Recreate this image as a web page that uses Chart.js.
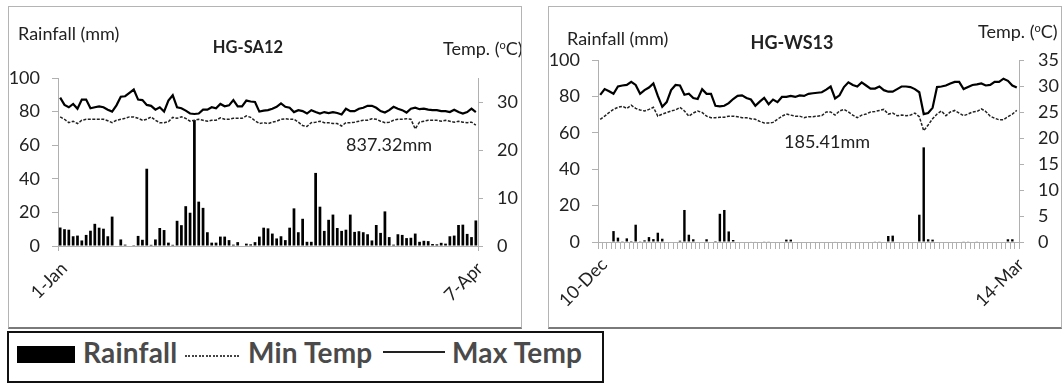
<!DOCTYPE html>
<html>
<head>
<meta charset="utf-8">
<title>Rainfall and temperature HG-SA12 / HG-WS13</title>
<script src="https://cdn.jsdelivr.net/npm/chart.js"></script>
<style>
  body { margin: 0; background: #fff; font-family: Lato, sans-serif; color: #222; }
  #page { position: relative; width: 1063px; height: 385px; overflow: hidden; }
  .panel { position: absolute; top: 6px; width: 514px; height: 323px; box-sizing: border-box;
           border: 1px solid #b4b4b4; border-bottom: 2px solid #7a7a7a; overflow: hidden; }
  .panel canvas { position: absolute; left: 0; top: 0; }
  .txt { position: absolute; white-space: nowrap; font-size: 18px; line-height: 1; color: #222; }
  .ttl { font-weight: bold; transform: translateX(-50%); }
  sup { font-size: 11px; vertical-align: 6px; line-height: 0; }
  #legend { position: absolute; left: 7px; top: 331px; width: 597px; height: 52px; box-sizing: border-box;
            border: 2px solid #111; }
  #legend .lt { position: absolute; top: 5px; font-size: 28px; font-weight: bold; line-height: 1;
                color: #4a4a4a; white-space: nowrap; letter-spacing: 0.2px; }
  #legend .sw { position: absolute; }
  #legend .dots { height: 1.5px; background: repeating-linear-gradient(to right, #444 0 2px, transparent 2px 3.5px); }
</style>
</head>
<body>
<div id="page">
  <div class="panel" style="left:8px">
    <canvas id="chartSA" width="512" height="320"></canvas>
    <div class="txt" style="left:9px; top:17px">Rainfall (mm)</div>
    <div class="txt ttl" style="left:239px; top:32px; font-size:16.5px">HG-SA12</div>
    <div class="txt" style="left:434px; top:32px">Temp. (<sup>o</sup>C)</div>
    <div class="txt" style="left:337px; top:128px">837.32mm</div>
  </div>
  <div class="panel" style="left:548px">
    <canvas id="chartWS" width="512" height="320"></canvas>
    <div class="txt" style="left:18px; top:22px">Rainfall (mm)</div>
    <div class="txt ttl" style="left:243px; top:26px; font-size:18px">HG-WS13</div>
    <div class="txt" style="left:429px; top:15px">Temp. (<sup>o</sup>C)</div>
    <div class="txt" style="left:235px; top:125px">185.41mm</div>
  </div>
  <div id="legend">
    <div class="sw" style="left:8px; top:13px; width:58px; height:17px; background:#000"></div>
    <div class="lt" style="left:74px">Rainfall</div>
    <div class="sw dots" style="left:176px; top:22px; width:56px"></div>
    <div class="lt" style="left:239px">Min Temp</div>
    <div class="sw" style="left:374px; top:18px; width:62px; border-top:2px solid #222"></div>
    <div class="lt" style="left:443px">Max Temp</div>
  </div>
</div>

<script>
// HG-SA12 : daily values, 1-Jan .. 7-Apr
const saStart = '2013-01-01';
const saRain = [11, 10, 9.7, 5.8, 6.2, 3.3, 6.6, 9.1, 13.2, 10.9,
  10.3, 5.8, 17.5, 0, 3.9, 0.8, 0, 0.5, 6, 3.7,
  46, 0.7, 3.9, 10.7, 9.5, 2, 0.7, 15, 12.4, 23.7,
  19.8, 75, 26.4, 22.7, 8.2, 2, 2, 5.6, 5.6, 3.5,
  0.8, 2.3, 0, 1.4, 1, 2.3, 5.6, 10.9, 10.5, 7.4,
  4.5, 5.8, 3.5, 10.9, 22.4, 8.2, 16.2, 2.5, 2.5, 43.5,
  23.4, 9, 15.6, 18.7, 10.7, 9, 9.7, 18.7, 8.4, 8.8,
  8.2, 7, 3.3, 12.5, 7.8, 20.6, 5.3, 0.8, 7, 6.6,
  4.7, 4.9, 7.4, 2.5, 3.1, 2.9, 1.2, 1, 1.9, 1.4,
  5.8, 6.2, 12.5, 12.7, 7.2, 5.3, 15.2];
const saMax = [30.9, 29.4, 28.9, 29.6, 28.6, 30.5, 30.5, 28.7, 28.9, 29.1,
  28.9, 28.4, 28, 29.3, 31.1, 31.2, 31.9, 32.6, 30.5, 30.4,
  29.4, 29.2, 28.4, 28.9, 28, 30.3, 31.4, 28.9, 28.7, 28.2,
  27.6, 27.5, 27.6, 28.4, 28.4, 28.9, 28.7, 29.6, 29.1, 29.3,
  30.4, 29.1, 29.1, 30.3, 30.1, 30, 28, 28.2, 28.3, 28.6,
  29, 29.7, 29, 28.8, 27.9, 28.3, 28.1, 27.6, 28.3, 27.9,
  27.6, 27.9, 27.7, 27.9, 27.7, 27.4, 28.6, 28.1, 28.1, 28.6,
  28.8, 29.2, 29.2, 28.8, 28.1, 27.8, 28.3, 29, 28.6, 28.3,
  27.8, 28.6, 28.8, 28.5, 28.6, 28.4, 28.3, 28.3, 28.1, 28.1,
  27.9, 28.4, 27.9, 27.6, 27.9, 28.6, 27.9];
const saMin = [26.9, 26.4, 25.7, 26, 25.5, 26.2, 26.4, 26.4, 26.4, 26.4,
  26.4, 26.1, 25.7, 26.2, 26.4, 26.6, 26.9, 26.9, 26.6, 26.2,
  26.4, 26.9, 26.2, 25.7, 25.7, 25.9, 26.8, 26.6, 26.9, 26.6,
  26, 26.2, 26.4, 26.2, 26, 26.2, 26.2, 26.7, 26.4, 26.4,
  26.6, 26.6, 26.6, 27.1, 26.8, 26.1, 25.5, 25.7, 25.5, 25.8,
  26, 26.4, 26.5, 26.4, 26.4, 25.8, 25.1, 24.9, 25.7, 25.8,
  26, 25.7, 25.7, 25.5, 25.5, 25, 25.7, 25.7, 25.8, 26,
  26.2, 26.2, 26.5, 26.4, 26, 25.7, 25.8, 26.2, 26.4, 26.4,
  26.5, 26.4, 24.4, 25.8, 26, 26.2, 26.2, 26.2, 26, 26.2,
  26, 25.8, 26, 25.8, 25.7, 25.8, 25.2];

// HG-WS13 : daily values, 10-Dec .. 14-Mar
const wsStart = '2012-12-10';
const wsRain = [0, 0, 0, 6, 2.4, 0.4, 2, 0.5, 9.5, 0.4,
  0.9, 2.7, 1.6, 5.1, 1.8, 0, 0, 0, 0.7, 17.6,
  4, 1.5, 0, 0, 1.5, 0, 0.5, 15.5, 17.6, 5.8,
  1.1, 0, 0, 0, 0.3, 0.3, 0, 0.2, 0.2, 0,
  0, 0, 1.3, 1.3, 0, 0, 0, 0, 0, 0,
  0, 0, 0, 0.3, 0, 0, 0, 0, 0, 0,
  0, 0, 0.2, 0.2, 0, 3.3, 3.5, 0, 0, 0,
  0, 0, 15, 52, 1.5, 1.3, 0, 0, 0, 0,
  0, 0, 0.2, 0.2, 0, 0.2, 0, 0, 0, 0,
  0, 0, 1.5, 1.5, 0];
const wsMax = [28.3, 29.4, 29, 28.5, 29.9, 30.1, 30.2, 30.8, 30.2, 28.5,
  29.2, 29.7, 30.5, 28.1, 26, 26.9, 29.2, 30.2, 30.1, 28.3,
  28.5, 27.7, 27.5, 29.4, 28.5, 28.5, 26.2, 26.1, 26.2, 26.7,
  27.5, 28.1, 28.2, 27.7, 27.4, 26.2, 27, 27.7, 26.5, 27.4,
  26.9, 27.9, 27.9, 28.1, 27.9, 28.2, 28.1, 28.5, 28.6, 28.7,
  28.8, 29.3, 29.9, 27.6, 28.2, 29.8, 30.7, 30.2, 29.9, 30.7,
  30.1, 29.5, 29.5, 29.9, 29.2, 28.9, 28.9, 29.4, 29.9, 29.9,
  29.8, 29.4, 28.8, 24.6, 24.8, 25.8, 29.8, 29.9, 30.1, 30.5,
  30.8, 30.8, 29.4, 29.8, 30.2, 30.3, 30.5, 30.1, 30.2, 30.8,
  30.8, 31.4, 31, 30.1, 29.7];
const wsMin = [23.6, 24.2, 24.9, 25.5, 25.9, 26.1, 25.7, 26.3, 25.7, 25.4,
  25.2, 25.5, 25.9, 24.2, 24.6, 24.9, 25.2, 25.4, 25.9, 25.2,
  24.2, 24.8, 25.2, 24.9, 24.2, 23.9, 23.9, 24, 24, 24.2,
  24.2, 24.1, 23.9, 23.9, 23.7, 23.6, 23.2, 22.9, 22.9, 23,
  23.6, 24.2, 24.6, 24.4, 24.2, 24.2, 23.9, 24.1, 24.1, 24.2,
  24.3, 25, 25, 24.4, 25.2, 25.5, 25, 24.4, 23.9, 24.4,
  24.6, 25, 25.1, 25.3, 25.5, 24.6, 24.8, 24.3, 24.4, 24.3,
  24.4, 24.8, 24.1, 21.4, 22.5, 23.7, 24.6, 25.2, 24.3, 25,
  25.3, 24.8, 24.3, 24.6, 25, 25.1, 25.6, 25.1, 24.2, 23.8,
  23.5, 23.5, 24.1, 24.6, 25.3];

const rainTicks = { min: 0, max: 100, step: 20 };
const tempTicks = { min: 0, max: 35, step: 5 };

const MONTHS = ['Jan', 'Feb', 'Mar', 'Apr', 'May', 'Jun', 'Jul', 'Aug', 'Sep', 'Oct', 'Nov', 'Dec'];

// one "d-Mon" label per day, starting at start
function dayLabels(start, count) {
  const d = new Date(start + 'T00:00:00');
  const out = [];
  for (let i = 0; i < count; i++) {
    out.push(d.getDate() + '-' + MONTHS[d.getMonth()]);
    d.setDate(d.getDate() + 1);
  }
  return out;
}

const AXIS = '#b0b0b0';
const TXT = '#222';
const FONT = { family: 'Lato', size: 18 };

function makeChart(id, o) {
  const labels = dayLabels(o.start, o.rain.length);
  return new Chart(document.getElementById(id), {
    type: 'bar',
    data: {
      labels: labels,
      datasets: [
        { type: 'line', label: 'Max Temp', data: o.tmax, yAxisID: 'y1', order: 1,
          borderColor: '#000', borderWidth: 2.2, pointRadius: 0, tension: 0 },
        { type: 'line', label: 'Min Temp', data: o.tmin, yAxisID: 'y1', order: 2,
          borderColor: '#222', borderWidth: 1.5, borderDash: [3, 1.5], pointRadius: 0, tension: 0 },
        { type: 'bar', label: 'Rainfall', data: o.rain, yAxisID: 'y', order: 3,
          backgroundColor: '#000', barPercentage: o.barPct, categoryPercentage: 1 }
      ]
    },
    options: {
      responsive: false,
      devicePixelRatio: 1,
      animation: false,
      layout: { padding: { top: o.top, left: 0, right: 0, bottom: 0 } },
      plugins: { legend: { display: false }, tooltip: { enabled: false } },
      scales: {
        x: {
          offset: true,
          grid: { drawOnChartArea: false, offset: true, tickLength: o.tickLen, tickColor: o.tickColor },
          border: { color: AXIS },
          ticks: {
            autoSkip: false, minRotation: 45, maxRotation: 45, padding: o.labelPad, labelOffset: 4,
            color: TXT, font: FONT,
            callback: function (v, i, ticks) {
              return (i === 0 || i === ticks.length - 1) ? this.getLabelForValue(v) : '';
            }
          },
          afterFit: s => { s.height = o.xHeight; }
        },
        y: {
          position: 'left', min: rainTicks.min, max: rainTicks.max,
          grid: { drawOnChartArea: false, tickLength: 6, tickColor: AXIS },
          border: { color: AXIS },
          ticks: { stepSize: rainTicks.step, padding: 12, color: TXT, font: FONT },
          afterFit: s => { s.width = o.left; }
        },
        y1: {
          position: 'right', min: tempTicks.min, max: tempTicks.max,
          grid: { drawOnChartArea: false, tickLength: 5, tickColor: AXIS },
          border: { color: AXIS },
          ticks: { stepSize: tempTicks.step, padding: 14, color: TXT, font: FONT },
          afterFit: s => { s.width = o.right; }
        }
      }
    }
  });
}

// left panel: only the first and last day carry a tick mark
makeChart('chartSA', {
  start: saStart, rain: saRain, tmax: saMax, tmin: saMin,
  barPct: 0.63, top: 71, left: 49, right: 43, xHeight: 81,
  tickLen: 5, labelPad: 7,
  tickColor: c => (c.index === 0 || c.index === undefined) ? AXIS : 'rgba(0,0,0,0)'
});

// right panel: a small tick between every day
makeChart('chartWS', {
  start: wsStart, rain: wsRain, tmax: wsMax, tmin: wsMin,
  barPct: 0.55, top: 53, left: 49, right: 42, xHeight: 85,
  tickLen: 7, labelPad: 5,
  tickColor: AXIS
});
</script>
</body>
</html>
